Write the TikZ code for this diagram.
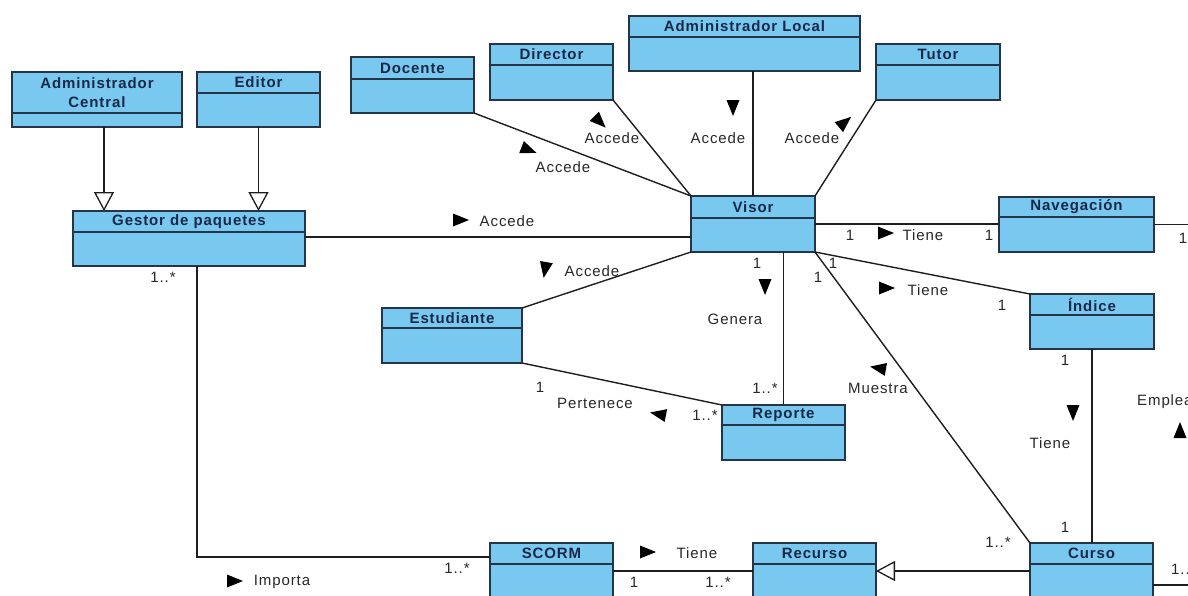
\documentclass[tikz,border=0pt]{standalone}
\usepackage{fontspec}
\setmainfont{Liberation Sans}[LetterSpace=6]
\usetikzlibrary{arrows.meta}
\definecolor{clsfill}{RGB}{120,200,240}
\definecolor{clsline}{RGB}{38,52,72}
\definecolor{hdrtext}{RGB}{25,40,70}
\definecolor{lbltext}{RGB}{40,40,40}
\definecolor{wirecol}{RGB}{30,30,30}
\tikzset{
 cls/.style={draw=clsline, fill=clsfill, line width=1.4pt, rectangle, inner sep=0pt, outer sep=0pt},
 hdrline/.style={draw=clsline, line width=1.4pt},
 hdr/.style={font=\fontsize{15}{19}\selectfont\bfseries, text=hdrtext, inner sep=0pt, align=center},
 lbl/.style={font=\fontsize{15}{17}\selectfont, text=lbltext, inner sep=0pt},
 wire/.style={draw=wirecol, line width=1.4pt},
 gen/.style={wire, -{Triangle[open, length=19pt, width=20pt, line width=1.3pt, fill=white]}},
 dirtri/.pic={\fill[black] (8,0) -- (-8,-6.5) -- (-8,6.5) -- cycle;},
}
\newcommand{\umlbox}[7]{%
 \node[cls, minimum width={(#4)-(#2)}, minimum height={(#5)-(#3)}] (#1) at ({((#2)+(#4))/2},{((#3)+(#5))/2}) {};
 \draw[hdrline] (#2,#6) -- (#4,#6);
 \node[hdr] (#1-t) at ({((#2)+(#4))/2},{((#3)+(#6))/2}) {#7};
}
\begin{document}
\begin{tikzpicture}[x=1pt,y=-1pt]
\useasboundingbox (0,0) rectangle (1188,595);
\fill[white] (0,0) rectangle (1188,595);
\clip (0,0) rectangle (1188,595);
\coordinate (edgeR) at (1192,0);

\coordinate (acs) at (104,127);
\coordinate (gv) at (0,237);
\coordinate (gs) at (197,557);
\coordinate (sr) at (0,571);
\coordinate (cr) at (0,585);

% classes
\umlbox{admincentral}{12}{72}{182}{127}{113}{Administrador\\Central}
\umlbox{editor}{197}{72}{320}{127}{93}{Editor}
\umlbox{gestor}{73}{211}{305}{266}{232}{Gestor de paquetes}
\umlbox{docente}{351}{57}{474}{113}{79}{Docente}
\umlbox{director}{490}{44}{613}{100}{65}{Director}
\umlbox{adminlocal}{629}{16}{860}{71}{37}{Administrador Local}
\umlbox{tutor}{876}{44}{1000}{100}{65}{Tutor}
\umlbox{visor}{691}{196}{815}{252}{218}{Visor}
\umlbox{navegacion}{999}{197}{1154}{252}{217}{Navegación}
\umlbox{indice}{1030}{294}{1154}{349}{315}{Índice}
\umlbox{estudiante}{382}{308}{522}{363}{328}{Estudiante}
\umlbox{reporte}{722}{405}{845}{460}{425}{Reporte}
\umlbox{scorm}{490}{543}{613}{600}{564}{SCORM}
\umlbox{recurso}{753}{543}{876}{600}{564}{Recurso}
\umlbox{curso}{1030}{543}{1153}{600}{564}{Curso}

% connectors
\draw[gen] (acs) -- (acs |- gestor.north);
\draw[gen] (editor.south) -- (editor.south |- gestor.north);
\draw[wire] (docente.south east) -- (visor.north west);
\draw[wire] (director.south east) -- (visor.north west);
\draw[wire] (visor.north) -- (visor.north |- adminlocal.south);
\draw[wire] (tutor.south west) -- (visor.north east);
\draw[wire] (gestor.east |- gv) -- (visor.west |- gv);
\draw[wire] (visor.east) -- (visor.east -| navegacion.west);
\draw[wire] (navegacion.east) -- (navegacion.east -| edgeR);
\draw[wire] (visor.south east) -- (indice.north west);
\draw[wire] (visor.south east) -- (curso.north west);
\draw[wire] (indice.south) -- (indice.south |- curso.north);
\draw[wire] (reporte.north) -- (reporte.north |- visor.south);
\draw[wire] (estudiante.north east) -- (visor.south west);
\draw[wire] (estudiante.south east) -- (reporte.north west);
\draw[wire] (gestor.south -| gs) -- (gs) -- (gs -| scorm.west);
\draw[wire] (scorm.east |- sr) -- (recurso.west |- sr);
\draw[gen] (curso.west |- sr) -- (recurso.east |- sr);
\draw[wire] (curso.east |- cr) -- (edgeR |- cr);

% direction triangles
\pic (a1) [rotate=-21] at (529,150) {dirtri};
\pic (a2) [rotate=-45] at (600,122) {dirtri};
\pic (a3) [rotate=-90] at (733,108) {dirtri};
\pic (a4) [rotate=40] at (845,122) {dirtri};
\pic (a5) at (461,220) {dirtri};
\pic (a6) [rotate=-100] at (545,270) {dirtri};
\pic (a7) [rotate=-90] at (765,287) {dirtri};
\pic (a8) at (886,233) {dirtri};
\pic (a9) at (887,288) {dirtri};
\pic (a10) [rotate=170] at (878,368) {dirtri};
\pic (a11) [rotate=-90] at (1073,413) {dirtri};
\pic (a12) [rotate=90] at (1180,430) {dirtri};
\pic (a13) [rotate=169] at (658,414) {dirtri};
\pic (a14) at (648,552) {dirtri};
\pic (a15) at (235,581) {dirtri};

% association labels
\node[lbl] (l1) at (563,167) {Accede};
\node[lbl] (l2) at (612,138) {Accede};
\node[lbl] (l3) at (718,138) {Accede};
\node[lbl] (l4) at (812,138) {Accede};
\node[lbl] (l5) at (507,221) {Accede};
\node[lbl] (l6) at (592,271) {Accede};
\node[lbl] (l7) at (735,319) {Genera};
\node[lbl] (l8) at (923,235) {Tiene};
\node[lbl] (l9) at (928,290) {Tiene};
\node[lbl] (l10) at (878,388) {Muestra};
\node[lbl] (l11) at (1050,443) {Tiene};
\node[lbl, anchor=west] (l12) at (1137,402) {Emplea};
\node[lbl] (l13) at (595,403) {Pertenece};
\node[lbl] (l14) at (697,553) {Tiene};
\node[lbl] (l15) at (282,582) {Importa};

% multiplicities
\node[lbl] (m1) at (163,277) {1..*};
\node[lbl] (m2) at (457,568) {1..*};
\node[lbl] (m3) at (634,582) {1};
\node[lbl] (m4) at (718,582) {1..*};
\node[lbl] (m5) at (540,387) {1};
\node[lbl] (m6) at (705,415) {1..*};
\node[lbl] (m7) at (757,263) {1};
\node[lbl] (m8) at (765,388) {1..*};
\node[lbl] (m9) at (850,235) {1};
\node[lbl] (m10) at (989,235) {1};
\node[lbl] (m11) at (833,263) {1};
\node[lbl] (m12) at (1002,305) {1};
\node[lbl] (m13) at (818,277) {1};
\node[lbl] (m14) at (998,542) {1..*};
\node[lbl] (m15) at (1065,360) {1};
\node[lbl] (m16) at (1065,527) {1};
\node[lbl] (m17) at (1183,238) {1};
\node[lbl, anchor=west] (m18) at (1171,569) {1..*};
\end{tikzpicture}
\end{document}
